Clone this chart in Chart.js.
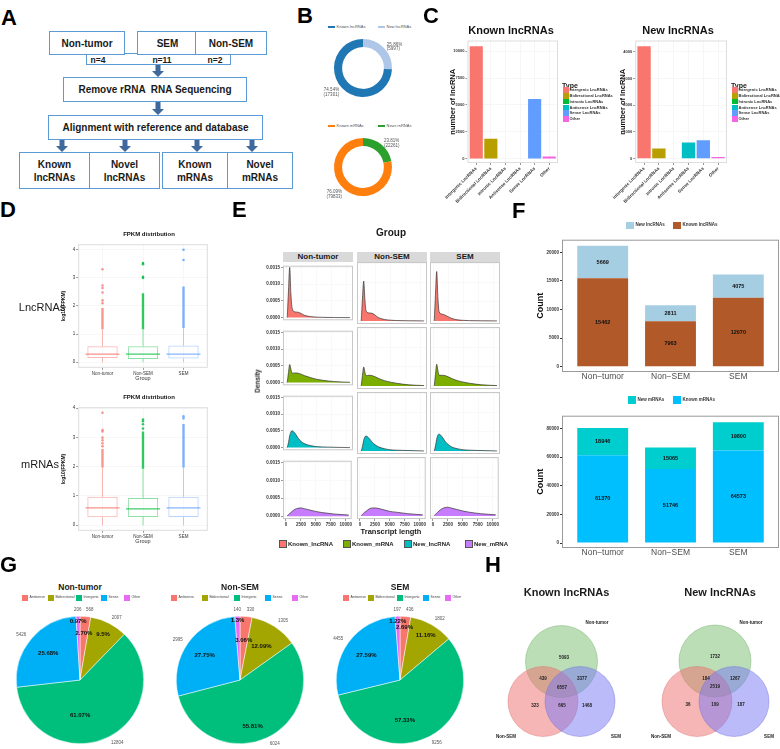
<!DOCTYPE html>
<html>
<head>
<meta charset="utf-8" />
<title>lncRNA and mRNA profiles</title>
<script src="https://cdn.jsdelivr.net/npm/chart.js"></script>
<style>
  html, body { margin: 0; padding: 0; background: white; }
  body { position: relative; width: 780px; height: 749px; overflow: hidden; font-family: 'Liberation Sans', Arial, sans-serif; color: #1a1a1a; }
  .abs { position: absolute; }
  .letter { position: absolute; font-weight: bold; font-size: 22px; line-height: 22px; color: #000; }
  .note { position: absolute; white-space: nowrap; line-height: 1; transform: translate(-50%, -50%); }
  .fbox { position: absolute; box-sizing: border-box; border: 1.5px solid #5B9BD5; background: #fff; display: flex; align-items: center; justify-content: center; text-align: center; font-weight: bold; font-size: 10px; line-height: 13px; color: #1a1a1a; white-space: pre; }
  .strip { position: absolute; box-sizing: border-box; background: #D9D9D9; font-weight: bold; font-size: 8px; display: flex; align-items: center; justify-content: center; color: #1a1a1a; }
  .lg { position: absolute; display: flex; align-items: center; white-space: nowrap; line-height: 1; }
  .lg span { display: inline-block; flex: none; }
</style>
</head>
<body>

<!-- A: workflow -->
<div class="fbox" style="left:86px;top:53px;width:145px;height:12px"></div>
<div class="fbox" style="left:49px;top:31px;width:76px;height:24px">Non-tumor</div>
<div class="fbox" style="left:137px;top:31px;width:61px;height:24px">SEM</div>
<div class="fbox" style="left:195px;top:31px;width:72px;height:24px">Non-SEM</div>
<div class="fbox" style="left:63px;top:77px;width:184px;height:25px">Remove rRNA  RNA Sequencing</div>
<div class="fbox" style="left:48px;top:115px;width:215px;height:25px">Alignment with reference and database</div>
<div class="fbox" style="left:19px;top:152px;width:71px;height:37px">Known
lncRNAs</div>
<div class="fbox" style="left:89px;top:152px;width:71px;height:37px">Novel
lncRNAs</div>
<div class="fbox" style="left:162px;top:152px;width:66px;height:37px">Known
mRNAs</div>
<div class="fbox" style="left:227px;top:152px;width:66px;height:37px">Novel
mRNAs</div>
<svg id="arrows" class="abs" style="left:0;top:0" width="300" height="200"></svg>

<script>
// ---------------- data ----------------
const groups = ['Non-tumor', 'Non-SEM', 'SEM'];
const groupTicks = ['Non\u2212tumor', 'Non\u2212SEM', 'SEM'];
const sampleSizes = ['n=4', 'n=11', 'n=2'];

// B: known / new share
const lncDonutLabels = ['Known lncRNAs', 'New lncRNAs'];
const lncDonutValues = [17301, 5997];
const lncDonutPct = ['74.54%', '25.86%'];
const mrnaDonutLabels = ['Known mRNAs', 'News mRNAs'];
const mrnaDonutValues = [79833, 22261];
const mrnaDonutPct = ['76.09%', '23.81%'];

// C: lncRNA types
const lncTypes = ['Intergenic LncRNAs', 'Bidirectional LncRNAs', 'Intronic LncRNAs', 'Antisense LncRNAs', 'Sense LncRNAs', 'Other'];
const knownTypeCounts = [10460, 1850, 0, 0, 5550, 200];
const newTypeCounts = [4210, 375, 0, 600, 680, 60];
const knownTypeTicks = [0, 2500, 5000, 7500, 10000];
const newTypeTicks = [0, 1000, 2000, 3000, 4000];

// D: log10(FPKM) box summaries
const boxTicks = [0, 1, 2, 3, 4];
const lncLow = [0, 0, 0];
const lncQ1 = [0.15, 0.11, 0.13];
const lncMedian = [0.29, 0.29, 0.29];
const lncQ3 = [0.57, 0.57, 0.59];
const lncHigh = [1.17, 1.17, 1.22];
const lncOutRun = [[1.17, 1.93], [1.17, 2.45], [1.22, 2.69]];
const lncOutPts = [[2.1, 2.2, 2.48, 2.64, 2.73, 3.31], [3.0, 3.04, 3.49, 3.53], [3.64, 4.0]];
const mrnaLow = [0, 0, 0];
const mrnaQ1 = [0.27, 0.28, 0.28];
const mrnaMedian = [0.59, 0.56, 0.59];
const mrnaQ3 = [0.97, 0.93, 0.97];
const mrnaHigh = [1.97, 1.93, 1.97];
const mrnaOutRun = [[1.97, 2.6], [1.93, 3.2], [1.97, 3.46]];
const mrnaOutPts = [[2.7, 2.8, 2.9, 2.99, 3.2, 3.25, 3.84], [3.3, 3.45, 3.55, 3.61], [3.65, 3.72]];

// E: transcript length densities (Non-tumor, Non-SEM, SEM)
const densNames = ['Known_lncRNA', 'Known_mRNA', 'New_lncRNA', 'New_mRNA'];
const densX = [200, 400, 600, 800, 1000, 1500, 2000, 2500, 3000, 4000, 5000, 6000, 8000, 10500];
const densTicks = [0, 0.0005, 0.001, 0.0015];
const lenTicks = [0, 2500, 5000, 7500, 10000];
const densKnownLnc = [
  [0, 0.0008, 0.0015, 0.0007, 0.00028, 0.00017, 0.00016, 0.00012, 0.00007, 0.00003, 0.000015, 0.000008, 0.000003, 0],
  [0, 0.0006, 0.00105, 0.00055, 0.00026, 0.00021, 0.0002, 0.00015, 0.00009, 0.00004, 0.00002, 0.00001, 0.000004, 0],
  [0, 0.0007, 0.0013, 0.0006, 0.00024, 0.00018, 0.00015, 0.00011, 0.00007, 0.00003, 0.000015, 0.000008, 0.000003, 0]
];
const densKnownMrna = [
  [0, 0.0003, 0.00054, 0.0004, 0.00028, 0.00029, 0.00028, 0.00025, 0.00021, 0.00015, 0.0001, 0.00007, 0.00003, 0.00001],
  [0, 0.00028, 0.0005, 0.00036, 0.00027, 0.00028, 0.00027, 0.00024, 0.0002, 0.00014, 0.0001, 0.00007, 0.00003, 0.00001],
  [0, 0.0003, 0.00057, 0.0004, 0.00028, 0.00028, 0.00027, 0.00024, 0.0002, 0.00014, 0.0001, 0.00007, 0.00003, 0.00001]
];
const densNewLnc = [
  [0, 0.00015, 0.00035, 0.00047, 0.0005, 0.00042, 0.00028, 0.00018, 0.00012, 0.00006, 0.00003, 0.00002, 0.00001, 0],
  [0, 0.00012, 0.00028, 0.00037, 0.00039, 0.00033, 0.00023, 0.00016, 0.00011, 0.00006, 0.00003, 0.00002, 0.00001, 0],
  [0, 0.00013, 0.00031, 0.00042, 0.00044, 0.00037, 0.00025, 0.00017, 0.00011, 0.00006, 0.00003, 0.00002, 0.00001, 0]
];
const densNewMrna = [
  [0.00001, 0.00004, 0.00007, 0.0001, 0.00013, 0.00019, 0.00022, 0.00023, 0.00021, 0.00017, 0.00013, 0.0001, 0.00006, 0.00003],
  [0.00001, 0.00004, 0.00007, 0.0001, 0.00012, 0.00018, 0.00021, 0.00021, 0.0002, 0.00016, 0.00012, 0.0001, 0.00006, 0.00003],
  [0.00001, 0.00004, 0.00007, 0.0001, 0.00013, 0.00019, 0.00022, 0.00023, 0.00021, 0.00017, 0.00013, 0.0001, 0.00006, 0.00003]
];

// F: counts per group
const knownLnc = [15462, 7963, 12070];
const newLnc = [5669, 2811, 4075];
const knownMrna = [61370, 51746, 64573];
const newMrna = [18946, 15065, 19800];
const lncCountTicks = [0, 5000, 10000, 15000, 20000];
const mrnaCountTicks = [0, 20000, 40000, 60000, 80000];

// G: lncRNA classes per group
const pieTypes = ['Antisense', 'Bidirectional', 'Intergenic', 'Sense', 'Other'];
const pieNonTumor = [568, 2007, 12804, 5426, 206];
const pieNonSem = [330, 1305, 6024, 2995, 140];
const pieSem = [436, 1802, 9256, 4455, 197];
const pctNonTumor = ['2.70%', '9.5%', '61.07%', '25.68%', '0.97%'];
const pctNonSem = ['3.06%', '12.09%', '55.81%', '27.75%', '1.3%'];
const pctSem = ['2.69%', '11.16%', '57.33%', '27.59%', '1.22%'];

// H: overlaps (NT only, NT&NS, NT&SEM, all, NS only, NS&SEM, SEM only)
const vennKnown = [5093, 439, 3377, 6557, 323, 665, 1468];
const vennNew = [1732, 184, 1267, 2519, 36, 109, 187];

// ---------------- styles ----------------
const typeColors = ['#F8766D', '#B79F00', '#00BA38', '#00BFC4', '#619CFF', '#F564E3'];
const boxEdge = ['rgba(248,118,109,0.5)', 'rgba(0,186,56,0.45)', 'rgba(97,156,255,0.45)'];
const boxMid = ['rgba(248,118,109,0.8)', 'rgba(0,186,56,0.75)', 'rgba(97,156,255,0.75)'];
const boxDot = ['rgba(248,118,109,0.75)', 'rgba(0,186,56,0.8)', 'rgba(97,156,255,0.8)'];
const densColors = ['#F8766D', '#7CAE00', '#00BFC4', '#C77CFF'];
const pieColors = ['#F8766D', '#A3A500', '#00BF7D', '#00B0F6', '#E76BF3'];
const vennFill = ['rgba(120,190,110,0.5)', 'rgba(240,110,110,0.5)', 'rgba(120,120,245,0.5)'];
const vennEdge = ['rgba(110,170,100,0.7)', 'rgba(220,110,110,0.7)', 'rgba(110,110,220,0.7)'];
const FONT = "'Liberation Sans', Arial, sans-serif";

Chart.defaults.font.family = FONT;
Chart.defaults.color = '#333';
Chart.defaults.animation = false;
Chart.defaults.maintainAspectRatio = false;
Chart.defaults.plugins.legend.display = false;
Chart.defaults.plugins.tooltip.enabled = false;

// ---------------- helpers ----------------
function place(x, y, w, h, config) {
  const box = document.createElement('div');
  box.className = 'abs';
  Object.assign(box.style, { left: x + 'px', top: y + 'px', width: w + 'px', height: h + 'px' });
  const cv = document.createElement('canvas');
  box.appendChild(cv);
  document.body.appendChild(box);
  return new Chart(cv, config);
}

function note(str, x, y, css) {
  const d = document.createElement('div');
  d.className = 'note';
  d.textContent = str;
  d.style.cssText += 'left:' + x + 'px;top:' + y + 'px;' + (css || '');
  document.body.appendChild(d);
  return d;
}

function letter(ch, x, capTop) {
  const d = document.createElement('div');
  d.className = 'letter';
  d.textContent = ch;
  d.style.left = x + 'px';
  d.style.top = (capTop - 3) + 'px';
  document.body.appendChild(d);
}

function legend(labels, colors, xs, ys, o) {
  labels.forEach((t, i) => {
    const it = document.createElement('div');
    it.className = 'lg';
    const X = Array.isArray(xs) ? xs[i] : xs, Y = Array.isArray(ys) ? ys[i] : ys;
    it.style.cssText += `left:${X}px;top:${Y - o.h / 2}px;height:${o.h}px;font-size:${o.font}px;font-weight:${o.weight || 'normal'};color:${o.color || '#222'};`;
    const sw = document.createElement('span');
    sw.style.cssText = `width:${o.w}px;height:${o.h}px;background:${colors[i]};margin-right:${o.gap}px;` +
      (o.edge ? `box-sizing:border-box;border:0.7px solid ${o.edge};` : '');
    it.appendChild(sw);
    it.appendChild(document.createTextNode(t));
    document.body.appendChild(it);
  });
}

const fixW = w => s => { s.width = w; };
const fixH = h => s => { s.height = h; };
const setTicks = vals => s => { s.ticks = vals.map(v => ({ value: v })); };

const frame = color => ({
  id: 'frame',
  afterDraw(chart) {
    const a = chart.chartArea, ctx = chart.ctx;
    ctx.save();
    ctx.strokeStyle = color;
    ctx.lineWidth = 1;
    ctx.strokeRect(a.left + 0.5, a.top + 0.5, a.right - a.left - 1, a.bottom - a.top - 1);
    ctx.restore();
  }
});

const barValues = {
  id: 'barValues',
  afterDatasetsDraw(chart) {
    const ctx = chart.ctx;
    ctx.save();
    ctx.font = 'bold 5.5px ' + FONT;
    ctx.fillStyle = '#111';
    ctx.textAlign = 'center';
    ctx.textBaseline = 'middle';
    chart.data.datasets.forEach((ds, di) => {
      chart.getDatasetMeta(di).data.forEach((bar, i) => {
        const p = bar.getProps(['x', 'y', 'base']);
        ctx.fillText(ds.data[i].y, p.x, (p.y + p.base) / 2);
      });
    });
    ctx.restore();
  }
};

// ---------------- A ----------------
letter('A', 1, 10);
const svg = document.getElementById('arrows');
function arrow(cx, y1, y2) {
  const p = document.createElementNS('http://www.w3.org/2000/svg', 'polygon');
  const h = 6;
  p.setAttribute('points', [[cx - 2.5, y1], [cx + 2.5, y1], [cx + 2.5, y2 - h], [cx + 6, y2 - h], [cx, y2], [cx - 6, y2 - h], [cx - 2.5, y2 - h]].map(q => q.join(',')).join(' '));
  p.setAttribute('fill', '#3F689C');
  svg.appendChild(p);
}
arrow(158, 65, 77);
arrow(158, 102, 115);
[62, 125, 197, 252].forEach(cx => arrow(cx, 140, 152));
[98, 162, 215].forEach((cx, i) => note(sampleSizes[i], cx, 59.5, 'font-weight:bold;font-size:8.5px;'));

// ---------------- B ----------------
letter('B', 297, 8);
function donutLabels(pct, vals) {
  return {
    id: 'donutLabels',
    afterDatasetsDraw(chart) {
      const ctx = chart.ctx;
      ctx.save();
      ctx.font = '4.5px ' + FONT;
      ctx.fillStyle = '#555';
      ctx.textBaseline = 'middle';
      chart.getDatasetMeta(0).data.forEach((arc, i) => {
        const p = arc.getProps(['x', 'y', 'startAngle', 'endAngle', 'outerRadius']);
        const a = (p.startAngle + p.endAngle) / 2;
        const r = p.outerRadius + 4;
        const tx = p.x + Math.cos(a) * r, ty = p.y + Math.sin(a) * r + 1.5;
        ctx.textAlign = Math.cos(a) >= 0 ? 'left' : 'right';
        ctx.fillText(pct[i], tx, ty - 2.4);
        ctx.fillText('(' + vals[i] + ')', tx, ty + 2.4);
      });
      ctx.restore();
    }
  };
}
function donut(top, labels, values, pct, colors) {
  // new share is drawn first so it starts at 12 o'clock
  const v = values.slice().reverse(), p = pct.slice().reverse(), c = colors.slice().reverse();
  place(313, top, 100, 68, {
    type: 'doughnut',
    data: { labels: labels.slice().reverse(), datasets: [{ data: v, backgroundColor: c, borderWidth: 0 }] },
    options: { cutout: '72%', layout: { padding: { top: 5, bottom: 5 } } },
    plugins: [donutLabels(p, v)]
  });
  legend(labels, colors, [328, 378], top - 7, { w: 7, h: 2.5, gap: 1.5, font: 4, color: '#555' });
}
donut(34, lncDonutLabels, lncDonutValues, lncDonutPct, ['#1F77B4', '#AEC7E8']);
donut(133, mrnaDonutLabels, mrnaDonutValues, mrnaDonutPct, ['#FF7F0E', '#2CA02C']);

// ---------------- C ----------------
letter('C', 423, 8);
function typeBars(x, w, yw, title, tx, counts, ticks, yMin, yMax) {
  const grid = { color: '#EDEDED', lineWidth: 0.5, tickLength: 2, tickColor: '#333' };
  place(x, 20, w, 185, {
    type: 'bar',
    data: { datasets: [{ data: counts.map((v, i) => ({ x: i + 1, y: v })), backgroundColor: typeColors, barPercentage: 0.9, categoryPercentage: 1 }] },
    options: {
      layout: { padding: { top: 20.5, right: 5 } },
      scales: {
        x: { type: 'linear', min: 0.4, max: lncTypes.length + 0.6, offset: false, afterBuildTicks: setTicks(lncTypes.map((t, i) => i + 1)), afterFit: fixH(42),
             grid: Object.assign({ offset: false }, grid), border: { display: false },
             ticks: { autoSkip: false, minRotation: 45, maxRotation: 45, padding: 1, color: '#333', font: { size: 4.5, weight: 'bold' }, callback: v => lncTypes[v - 1] } },
        y: { min: yMin, max: yMax, afterBuildTicks: setTicks(ticks), afterFit: fixW(yw), grid: grid, border: { display: false },
             ticks: { padding: 1, color: '#333', font: { size: 4, weight: 'bold' }, callback: v => String(v) },
             title: { display: true, text: 'number of lncRNA', color: '#111', padding: 0, font: { size: 7.5, weight: 'bold' } } }
      }
    },
    plugins: [frame('#DDDDDD')]
  });
  note(title, tx, 30, 'font-weight:bold;font-size:11px;color:#111;');
}
typeBars(443, 120, 19, 'Known lncRNAs', 511, knownTypeCounts, knownTypeTicks, -400, 11000);
typeBars(611, 121, 17, 'New lncRNAs', 678, newTypeCounts, newTypeTicks, -170, 4430);
[563, 732].forEach(lx => {
  note('Type', lx + 7, 85, 'font-weight:bold;font-size:7px;');
  legend(lncTypes, typeColors, lx, [90, 96, 101.5, 107.5, 113, 119], { w: 5.5, h: 5.5, gap: 1, font: 4, weight: 'bold', color: '#333' });
});

// ---------------- D ----------------
letter('D', 0, 202);
function boxPlot(top, padTop, low, q1, med, q3, high, runs, pts, yMin, yMax) {
  const xs = [1, 2, 3];
  const ds = [{
    type: 'bar', data: xs.map((x, i) => ({ x, y: [q1[i], q3[i]] })),
    backgroundColor: 'rgba(255,255,255,0)', borderColor: boxEdge, borderWidth: 1, borderSkipped: false,
    barPercentage: 0.75, categoryPercentage: 1
  }];
  xs.forEach((x, i) => {
    ds.push({ type: 'line', data: [{ x, y: low[i] }, { x, y: q1[i] }, { x, y: null }, { x, y: q3[i] }, { x, y: high[i] }], borderColor: boxEdge[i], borderWidth: 1, pointRadius: 0 });
    ds.push({ type: 'line', data: [{ x, y: runs[i][0] }, { x, y: runs[i][1] }], borderColor: boxDot[i], borderWidth: 2.4, pointRadius: 0 });
    ds.push({ type: 'line', showLine: false, data: pts[i].map(y => ({ x, y })), pointRadius: 1.3, pointBorderWidth: 0, pointBackgroundColor: boxDot[i] });
    ds.push({ type: 'line', showLine: false, data: [{ x, y: med[i] }], pointStyle: 'line', pointRadius: 17, pointBorderWidth: 1.2, pointBorderColor: boxMid[i] });
  });
  const grid = { color: '#EEEEEE', lineWidth: 0.5, tickLength: 2, tickColor: '#333', offset: false };
  place(60, top, 166, 160, {
    type: 'bar',
    data: { datasets: ds },
    options: {
      layout: { padding: { top: padTop, right: 4 } },
      scales: {
        x: { type: 'linear', min: 0.4, max: 3.6, offset: false, afterBuildTicks: setTicks(xs), afterFit: fixH(14), grid: grid, border: { display: false },
             ticks: { padding: 1, color: '#333', font: { size: 4.5 }, callback: v => groups[v - 1] },
             title: { display: true, text: 'Group', color: '#333', padding: 0, font: { size: 5.5 } } },
        y: { min: yMin, max: yMax, afterBuildTicks: setTicks(boxTicks), afterFit: fixW(18), grid: grid, border: { display: false },
             ticks: { padding: 1, color: '#333', font: { size: 4.5 } },
             title: { display: true, text: 'log10(FPKM)', color: '#111', padding: 0, font: { size: 5, weight: 'bold' } } }
      }
    },
    plugins: [frame('#DDDDDD')]
  });
  note('FPKM distribution', 149, top + padTop - 3, 'font-weight:bold;font-size:6px;color:#111;');
}
boxPlot(226, 11, lncLow, lncQ1, lncMedian, lncQ3, lncHigh, lncOutRun, lncOutPts, -0.2, 4.2);
boxPlot(389, 11, mrnaLow, mrnaQ1, mrnaMedian, mrnaQ3, mrnaHigh, mrnaOutRun, mrnaOutPts, -0.19, 4.03);
note('LncRNAs', 42, 307, 'font-size:11px;');
note('mRNAs', 40, 464, 'font-size:11px;');

// ---------------- E ----------------
letter('E', 232, 202);
const eCols = [283, 357, 430];
const eRows = [262, 327, 392, 457];
const densRows = [densKnownLnc, densKnownMrna, densNewLnc, densNewMrna];
note('Group', 391, 233, 'font-weight:bold;font-size:10px;');
groups.forEach((g, c) => {
  const s = document.createElement('div');
  s.className = 'strip';
  s.textContent = g;
  Object.assign(s.style, { left: eCols[c] + 'px', top: '252px', width: '70px', height: '9.5px' });
  document.body.appendChild(s);
});
densRows.forEach((rowData, r) => {
  groups.forEach((g, c) => {
    const padL = c === 0 ? 28 : 0, padB = r === 3 ? 10 : 0;
    place(eCols[c] - padL, eRows[r], 70 + padL, 62 + padB, {
      type: 'line',
      data: { datasets: [{ data: densX.map((x, i) => ({ x, y: rowData[c][i] })), fill: 'origin', backgroundColor: densColors[r], borderColor: '#333', borderWidth: 0.7, pointRadius: 0, cubicInterpolationMode: 'monotone' }] },
      options: {
        scales: {
          x: { type: 'linear', min: -500, max: 11000, afterBuildTicks: setTicks(lenTicks), afterFit: fixH(padB), border: { display: false },
               grid: { color: '#F2F2F2', lineWidth: 0.5, drawTicks: r === 3, tickLength: 2, tickColor: '#333' },
               ticks: { display: r === 3, autoSkip: false, padding: 1, maxRotation: 0, color: '#333', font: { size: 4.5, weight: 'bold' }, callback: v => String(v) } },
          y: { min: -0.00008, max: 0.00155, afterBuildTicks: setTicks(densTicks), afterFit: fixW(padL), border: { display: false },
               grid: { color: '#F2F2F2', lineWidth: 0.5, drawTicks: c === 0, tickLength: 2, tickColor: '#333' },
               ticks: { display: c === 0, autoSkip: false, padding: 1, color: '#333', font: { size: 4.5, weight: 'bold' }, callback: v => v.toFixed(4) } }
        }
      },
      plugins: [frame('#C8C8C8')]
    });
  });
});
note('Density', 258, 381, 'font-weight:bold;font-size:6.5px;transform:translate(-50%,-50%) rotate(-90deg);');
note('Transcript length', 391, 532, 'font-weight:bold;font-size:7.5px;');
legend(densNames, densColors, [279, 343, 404, 465], 544, { w: 8, h: 8, gap: 1, font: 6, weight: 'bold', color: '#222', edge: '#555' });

// ---------------- F ----------------
letter('F', 512, 203);
function countBars(top, known, nw, colors, ticks, yMin, yMax) {
  const xs = [1, 2, 3];
  place(535, top, 245, 154, {
    type: 'bar',
    data: { datasets: [
      { data: known.map((v, i) => ({ x: xs[i], y: v })), backgroundColor: colors[1], barPercentage: 0.75, categoryPercentage: 1 },
      { data: nw.map((v, i) => ({ x: xs[i], y: v })), backgroundColor: colors[0], barPercentage: 0.75, categoryPercentage: 1 }
    ] },
    options: {
      layout: { padding: { top: 2, right: 1 } },
      scales: {
        x: { type: 'linear', stacked: true, min: 0.4, max: 3.6, offset: false, afterBuildTicks: setTicks(xs), afterFit: fixH(18),
             grid: { display: false, drawTicks: false }, border: { display: false },
             ticks: { autoSkip: false, padding: 0, color: '#4D4D4D', font: { size: 8.5 }, callback: v => groupTicks[v - 1] } },
        y: { stacked: true, min: yMin, max: yMax, afterBuildTicks: setTicks(ticks), afterFit: fixW(27), border: { display: false },
             grid: { drawOnChartArea: false, tickLength: 2, tickColor: '#333' },
             ticks: { padding: 1, color: '#333', font: { size: 4.5, weight: 'bold' }, callback: v => String(v) },
             title: { display: true, text: 'Count', color: '#111', padding: 0, font: { size: 9, weight: 'bold' } } }
      }
    },
    plugins: [frame('#9A9A9A'), barValues]
  });
}
countBars(236, knownLnc, newLnc, ['#A6CEE3', '#B15928'], lncCountTicks, -900, 22200);
countBars(412, knownMrna, newMrna, ['#00CDCD', '#00BFFF'], mrnaCountTicks, -3450, 88970);
legend(['New lncRNAs', 'Known lncRNAs'], ['#A6CEE3', '#B15928'], [626, 673], 225.5, { w: 7.5, h: 7.5, gap: 2, font: 4.5, weight: 'bold', color: '#333' });
legend(['New mRNAs', 'Known mRNAs'], ['#00CDCD', '#00BFFF'], [628, 673], 400, { w: 7.5, h: 7.5, gap: 2, font: 4.5, weight: 'bold', color: '#333' });

// ---------------- G ----------------
letter('G', 0, 557);
function pieLabels(pct, rad, shift) {
  return {
    id: 'pieLabels',
    afterDatasetsDraw(chart) {
      const ctx = chart.ctx, vals = chart.data.datasets[0].data;
      ctx.save();
      ctx.textBaseline = 'middle';
      chart.getDatasetMeta(0).data.forEach((arc, i) => {
        const p = arc.getProps(['x', 'y', 'startAngle', 'endAngle', 'outerRadius']);
        const mid = (p.startAngle + p.endAngle) / 2;
        const a = mid + shift[i] * Math.PI / 180;
        ctx.font = 'bold 6px ' + FONT;
        ctx.fillStyle = '#111';
        ctx.textAlign = 'center';
        ctx.fillText(pct[i], p.x + Math.cos(a) * p.outerRadius * rad[i], p.y + Math.sin(a) * p.outerRadius * rad[i]);
        const r2 = p.outerRadius * 1.1, cx = Math.cos(mid);
        ctx.font = '4.5px ' + FONT;
        ctx.fillStyle = '#555';
        ctx.textAlign = cx > 0.05 ? 'left' : (cx < -0.05 ? 'right' : 'center');
        ctx.fillText(vals[i], p.x + cx * r2, p.y + Math.sin(mid) * r2);
      });
      ctx.restore();
    }
  };
}
function pie(x, title, values, pct, rad, shift, lgX) {
  place(x, 600, 160, 149, {
    type: 'pie',
    data: { labels: pieTypes, datasets: [{ data: values, backgroundColor: pieColors, borderColor: '#fff', borderWidth: 0.5 }] },
    options: { layout: { padding: { top: 16, bottom: 5 } } },
    plugins: [pieLabels(pct, rad, shift)]
  });
  note(title, x + 80, 587, 'font-weight:bold;font-size:8.5px;');
  legend(pieTypes, pieColors, lgX, 598, { w: 6, h: 6, gap: 1.5, font: 3.5, color: '#444' });
}
pie(0, 'Non-tumor', pieNonTumor, pctNonTumor, [0.73, 0.8, 0.56, 0.65, 0.92], [0, 0, 26, 0, 0], [22, 48, 76, 101, 124]);
pie(160, 'Non-SEM', pieNonSem, pctNonSem, [0.62, 0.62, 0.76, 0.68, 0.94], [0, 0, 10, 0, 0], [171, 202, 234, 265, 292]);
pie(320, 'SEM', pieSem, pctSem, [0.83, 0.81, 0.63, 0.65, 0.92], [0, 0, 20, 0, 0], [343, 368, 397, 423, 445]);

// ---------------- H ----------------
letter('H', 485, 557);
function vennText(counts, spots, names, nameSpots) {
  return {
    id: 'vennText',
    afterDatasetsDraw(chart) {
      const ctx = chart.ctx, xs = chart.scales.x, ys = chart.scales.y;
      ctx.save();
      ctx.textAlign = 'center';
      ctx.textBaseline = 'middle';
      ctx.fillStyle = '#222';
      ctx.font = 'bold 4.5px ' + FONT;
      counts.forEach((v, i) => ctx.fillText(v, xs.getPixelForValue(spots[i][0]), ys.getPixelForValue(spots[i][1])));
      names.forEach((n, i) => ctx.fillText(n, xs.getPixelForValue(nameSpots[i][0]), ys.getPixelForValue(nameSpots[i][1])));
      ctx.restore();
    }
  };
}
function venn(x, w, title, counts, circles, spots, nameSpots) {
  place(x, 600, w, 149, {
    type: 'bubble',
    data: { datasets: [{ data: circles.map(c => ({ x: c[0], y: c[1], r: c[2] })), backgroundColor: vennFill, borderColor: vennEdge, borderWidth: 0.6, clip: false }] },
    options: {
      layout: { autoPadding: false, padding: 0 },
      scales: { x: { display: false, min: x, max: x + w }, y: { display: false, min: 600, max: 749, reverse: true } }
    },
    plugins: [vennText(counts, spots, groups, nameSpots)]
  });
  note(title, circles[0][0] + 5, 592, 'font-weight:bold;font-size:11px;');
}
venn(490, 150, 'Known lncRNAs', vennKnown,
  [[561.5, 661.5, 36], [543, 701.5, 35], [580, 701.5, 35]],
  [[564, 658], [543, 679], [582, 679], [562, 687.5], [535, 705.5], [562, 705.5], [587, 705.5]],
  [[597, 623], [506, 737], [616, 737]]);
venn(640, 140, 'New lncRNAs', vennNew,
  [[715, 661, 36], [697, 701.5, 35], [734, 701.5, 35]],
  [[715, 657], [706, 678.5], [735, 678.5], [715, 687], [688, 705], [715, 705], [741, 705]],
  [[751, 623], [661, 737], [769, 737]]);
</script>
</body>
</html>
